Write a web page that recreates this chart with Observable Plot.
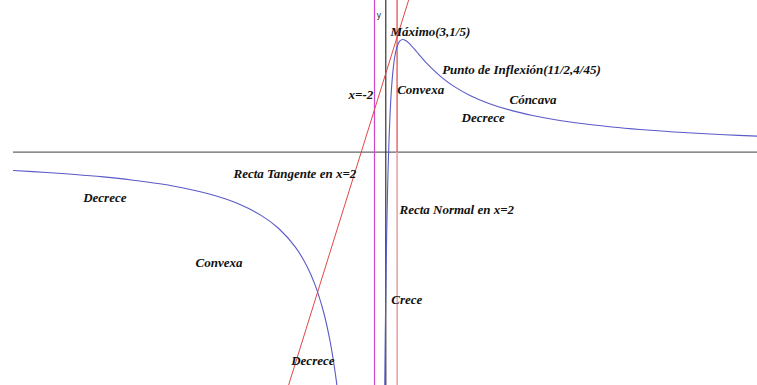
<!DOCTYPE html>
<html>
<head>
<meta charset="utf-8">
<script src="https://cdn.jsdelivr.net/npm/d3@7"></script>
<script src="https://cdn.jsdelivr.net/npm/@observablehq/plot@0.6"></script>
<style>
  html, body { margin: 0; padding: 0; background: #fff; }
  svg { display: block; }
</style>
</head>
<body>
<div id="chart"></div>
<script>
// Left branch of the curve (x < -2)
const leftX = [-65.9, -60, -55, -50, -45, -40, -35, -30, -26, -22, -19, -16, -14, -12.5, -11, -10, -9.3, -8.8, -8.4];
const leftY = [-0.0325, -0.0360, -0.0395, -0.0438, -0.0492, -0.0561, -0.0652, -0.0778, -0.0920, -0.1125, -0.1349, -0.1684, -0.2014, -0.2358, -0.2840, -0.3281, -0.3678, -0.4022, -0.4341];

// Right branch of the curve (x > -2)
const rightX = [-0.2, -0.1, 0, 0.1, 0.25, 0.4, 0.6, 0.8, 1, 1.3, 1.6, 2, 2.5, 3, 3.5, 4, 5, 5.5, 6, 7, 8, 10, 12, 15, 18, 22, 26, 30, 35, 40, 45, 50, 55, 60, 65.8];
const rightY = [-0.4321, -0.3324, -0.25, -0.1814, -0.0988, -0.0347, 0.0296, 0.0765, 0.1111, 0.1469, 0.1698, 0.1875, 0.1975, 0.2, 0.1983, 0.1944, 0.1837, 0.1778, 0.1719, 0.1605, 0.15, 0.1319, 0.1173, 0.1003, 0.0875, 0.0747, 0.0651, 0.0576, 0.0504, 0.0448, 0.0403, 0.0366, 0.0335, 0.0310, 0.0284];

// Tangent line at x = 2 (two end points)
const tangentX = [-17.22, 4.02];
const tangentY = [-0.414, 0.2692];

// Normal line at x = 2 (nearly vertical)
const normalX = [1.997, 2.0, 2.019];
const normalY = [0.2692, 0.0, -0.414];

// Vertical asymptote
const asymptoteX = [-2];

// Visible window
const xDomain = [-65.89, 65.79];
const yDomain = [-0.414, 0.2692];

// Annotations
const labelText = ["Máximo(3,1/5)", "Punto de Inflexión(11/2,4/45)", "Convexa", "Cóncava", "Decrece", "x=-2",
  "Recta Tangente en x=2", "Recta Normal en x=2", "Decrece", "Convexa", "Crece", "Decrece"];
const labelX = [0.83, 9.98, 2.02, 21.89, 13.40, -6.60, -26.96, 2.42, -53.56, -33.68, 0.96, -16.74];
const labelY = [0.2135, 0.1462, 0.1107, 0.0930, 0.0603, 0.1019, -0.0383, -0.1022, -0.0809, -0.1970, -0.2619, -0.3697];

const axisLabel = ["y"];
const axisLabelX = [-1.65];
const axisLabelY = [0.2426];

const zip = (xs, ys) => xs.map((x, i) => ({x, y: ys[i]}));
const left = zip(leftX, leftY);
const right = zip(rightX, rightY);
const tangent = zip(tangentX, tangentY);
const normalTop = zip(normalX.slice(0, 2), normalY.slice(0, 2));
const normalBottom = zip(normalX.slice(1), normalY.slice(1));
const labels = labelText.map((t, i) => ({t, x: labelX[i], y: labelY[i]}));
const axisLabels = axisLabel.map((t, i) => ({t, x: axisLabelX[i], y: axisLabelY[i]}));

const chart = Plot.plot({
  width: 757,
  height: 385,
  marginTop: 0,
  marginRight: 0,
  marginBottom: 0,
  marginLeft: 13,
  x: {domain: xDomain, axis: null},
  y: {domain: yDomain, axis: null},
  style: {background: "#fff", overflow: "hidden"},
  marks: [
    Plot.ruleY([0], {stroke: "#666", strokeWidth: 1.3}),
    Plot.ruleX([0], {stroke: "#333", strokeWidth: 1.2}),
    Plot.ruleX(asymptoteX, {stroke: "#cf45cf", strokeWidth: 1.2}),
    Plot.line(normalTop, {x: "x", y: "y", stroke: "#e04444", strokeWidth: 1.2, clip: true}),
    Plot.line(normalBottom, {x: "x", y: "y", stroke: "#e8a4a4", strokeWidth: 1.6, clip: true}),
    Plot.line(tangent, {x: "x", y: "y", stroke: "#e04848", strokeWidth: 1, clip: true}),
    Plot.line(left, {x: "x", y: "y", stroke: "#5a5ac8", strokeWidth: 1.1, curve: "catmull-rom", clip: true}),
    Plot.line(right, {x: "x", y: "y", stroke: "#5a5ac8", strokeWidth: 1.1, curve: "catmull-rom", clip: true}),
    Plot.text(labels, {x: "x", y: "y", text: "t", textAnchor: "start", fill: "#111",
      fontFamily: "Liberation Serif", fontWeight: "bold", fontStyle: "italic", fontSize: 13}),
    Plot.text(axisLabels, {x: "x", y: "y", text: "t", textAnchor: "start", fill: "#222",
      fontFamily: "DejaVu Sans", fontSize: 8})
  ]
});
document.getElementById("chart").appendChild(chart);
</script>
</body>
</html>
